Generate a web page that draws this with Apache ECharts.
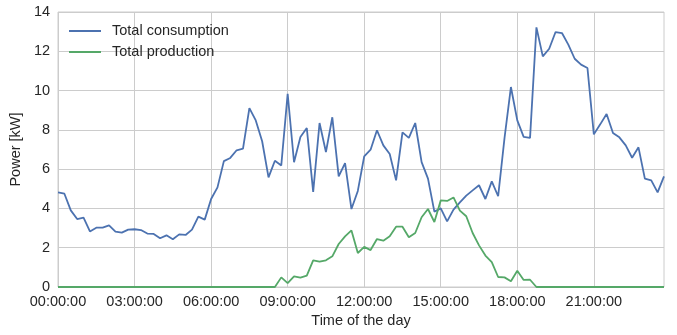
<!DOCTYPE html>
<html>
<head>
<meta charset="utf-8">
<script src="https://cdn.jsdelivr.net/npm/echarts@6/dist/echarts.min.js"></script>
<style>html,body{margin:0;padding:0;background:#fff}#c{width:677px;height:335px}</style>
</head>
<body>
<div id="c"></div>
<script>
// 15-minute time slots over one day
var timeSlots = [];
for (var h = 0; h < 24; h++) {
  for (var m = 0; m < 60; m += 15) {
    timeSlots.push((h < 10 ? '0' : '') + h + ':' + (m < 10 ? '0' : '') + m + ':00');
  }
}
var yTicks = [0, 2, 4, 6, 8, 10, 12, 14];

var consumption = [
  4.82, 4.75, 3.90, 3.46, 3.53, 2.83, 3.02, 3.02, 3.14, 2.82, 2.77, 2.92,
  2.94, 2.90, 2.72, 2.70, 2.48, 2.63, 2.43, 2.68, 2.65, 2.92, 3.58, 3.43,
  4.48, 5.07, 6.41, 6.57, 6.96, 7.04, 9.11, 8.48, 7.42, 5.58, 6.43, 6.19,
  9.84, 6.35, 7.64, 8.09, 4.84, 8.35, 6.87, 8.64, 5.63, 6.31, 3.97, 4.89,
  6.65, 6.99, 7.98, 7.21, 6.77, 5.43, 7.87, 7.59, 8.35, 6.36, 5.52, 3.84,
  4.00, 3.34, 3.94, 4.31, 4.65, 4.92, 5.18, 4.48, 5.38, 4.62, 7.59, 10.18,
  8.48, 7.64, 7.59, 13.22, 11.74, 12.13, 12.98, 12.93, 12.34, 11.62, 11.32, 11.15,
  7.77, 8.28, 8.81, 7.84, 7.62, 7.21, 6.58, 7.11, 5.52, 5.43, 4.82, 5.63
];

var production = [
  0, 0, 0, 0, 0, 0, 0, 0, 0, 0, 0, 0,
  0, 0, 0, 0, 0, 0, 0, 0, 0, 0, 0, 0,
  0, 0, 0, 0, 0, 0, 0, 0, 0, 0, 0, 0.49,
  0.20, 0.54, 0.48, 0.58, 1.36, 1.29, 1.36, 1.56, 2.19, 2.58, 2.88, 1.73,
  2.04, 1.88, 2.44, 2.36, 2.58, 3.07, 3.07, 2.53, 2.75, 3.55, 3.97, 3.31,
  4.41, 4.38, 4.56, 3.89, 3.60, 2.75, 2.12, 1.60, 1.27, 0.51, 0.49, 0.29,
  0.83, 0.36, 0.37, 0, 0, 0, 0, 0, 0, 0, 0, 0,
  0, 0, 0, 0, 0, 0, 0, 0, 0, 0, 0, 0
];

var FONT = '"Liberation Sans", Arial, sans-serif';
var TXT = '#262626';
var GRIDC = '#cccccc';

var chart = echarts.init(document.getElementById('c'), null, {renderer: 'canvas'});
chart.setOption({
  animation: false,
  backgroundColor: '#fff',
  textStyle: {fontFamily: FONT},
  grid: {left: 57, right: 13, top: 12, bottom: 48, show: true, borderColor: GRIDC, borderWidth: 1, backgroundColor: 'transparent'},
  legend: {
    orient: 'vertical', left: 69, top: 23, padding: 0, icon: 'rect', itemWidth: 32, itemHeight: 2, itemGap: 5,
    textStyle: {fontSize: 14.5, color: TXT, fontFamily: FONT, padding: [0, 0, 0, 6], lineHeight: 16},
    data: ['Total consumption', 'Total production']
  },
  xAxis: {
    type: 'category', data: timeSlots, boundaryGap: false,
    name: 'Time of the day', nameLocation: 'middle', nameGap: 25,
    nameTextStyle: {fontSize: 14.5, color: TXT, fontFamily: FONT},
    axisLine: {show: false}, axisTick: {show: false},
    axisLabel: {interval: 11, fontSize: 14.5, color: TXT, fontFamily: FONT, margin: 7},
    splitLine: {show: true, interval: 11, lineStyle: {color: GRIDC, width: 1}}
  },
  yAxis: {
    type: 'value', min: yTicks[0], max: yTicks[yTicks.length - 1], interval: 2,
    name: 'Power [kW]', nameLocation: 'middle', nameGap: 28,
    nameTextStyle: {fontSize: 14.5, color: TXT, fontFamily: FONT},
    axisLine: {show: false}, axisTick: {show: false},
    axisLabel: {fontSize: 14.5, color: TXT, fontFamily: FONT, margin: 8},
    splitLine: {show: true, lineStyle: {color: GRIDC, width: 1}}
  },
  series: [
    {name: 'Total consumption', type: 'line', data: consumption, symbol: 'none',
     lineStyle: {color: '#4c72b0', width: 1.8}, itemStyle: {color: '#4c72b0'}},
    {name: 'Total production', type: 'line', data: production, symbol: 'none',
     lineStyle: {color: '#55a868', width: 1.8}, itemStyle: {color: '#55a868'}}
  ]
});
</script>
</body>
</html>
